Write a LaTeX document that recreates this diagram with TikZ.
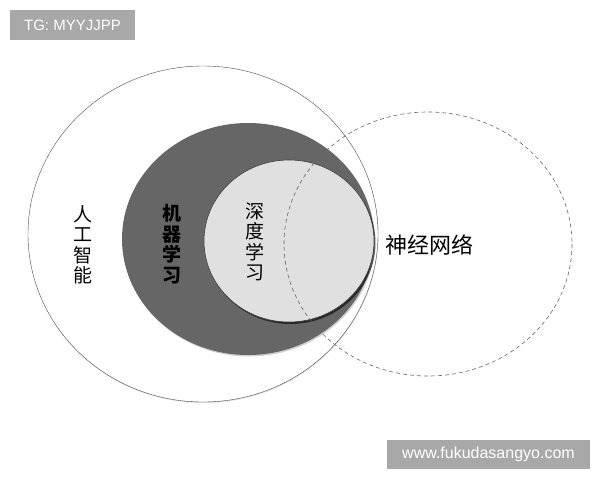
\documentclass[tikz,border=0pt]{standalone}
\usepackage{fontspec}
\setmainfont{Liberation Sans}
\newfontfamily\cjk{Noto Sans CJK SC}
\usetikzlibrary{shadows}
\definecolor{mlgray}{HTML}{666666}
\definecolor{dlgray}{HTML}{E0E0E0}
\definecolor{taggray}{HTML}{A8A8A8}
\tikzset{
  vlabel/.style={align=center, font=\cjk\fontsize{19}{20.5}\selectfont, inner sep=0pt},
  tagbox/.style={fill=taggray, text=white, inner sep=0pt, font=\fontsize{15}{15}\selectfont}
}
\begin{document}
\begin{tikzpicture}[x=1pt, y=-1pt]
	\useasboundingbox (0,0) rectangle (600,480);

	% Artificial intelligence (outer set)
	\draw[fill=white, draw=black!70, thin, drop shadow={shadow xshift=0.5pt, shadow yshift=-1pt, opacity=0.25}]
		(203,234) ellipse [x radius=175, y radius=168];

	% Machine learning
	\fill[mlgray, drop shadow={shadow xshift=1pt, shadow yshift=-1.5pt, opacity=0.35}]
		(248,239) ellipse [x radius=126, y radius=116];

	% Deep learning
	\draw[fill=dlgray, draw=black!75, line width=0.6pt,
		drop shadow={shadow xshift=1.5pt, shadow yshift=-2pt, opacity=0.6, fill=black}]
		(289,241) ellipse [x radius=85, y radius=81];

	% Neural network (dashed set)
	\draw[black!60, dashed, dash pattern=on 4pt off 3pt, line width=0.6pt]
		(428,244) ellipse [x radius=144, y radius=132];

	% Labels
	\node[vlabel] (ai) at (83,245) {人\\工\\智\\能};
	\node[vlabel, font=\cjk\bfseries\fontsize{19}{20.5}\selectfont] (ml) at (172,244) {机\\器\\学\\习};
	\node[vlabel] (dl) at (255,242) {深\\度\\学\\习};
	\node[font=\cjk\fontsize{22}{22}\selectfont, inner sep=0pt] (nn) at (429,245) {神经网络};

	% Watermark tags
	\node[tagbox, minimum width=125pt, minimum height=30pt] (tg) at (72.5,25) {TG: MYYJJPP};
	\node[tagbox, minimum width=203pt, minimum height=29pt, font=\fontsize{16}{16}\selectfont] (web) at (488.5,454.5) {www.fukudasangyo.com};
\end{tikzpicture}
\end{document}
